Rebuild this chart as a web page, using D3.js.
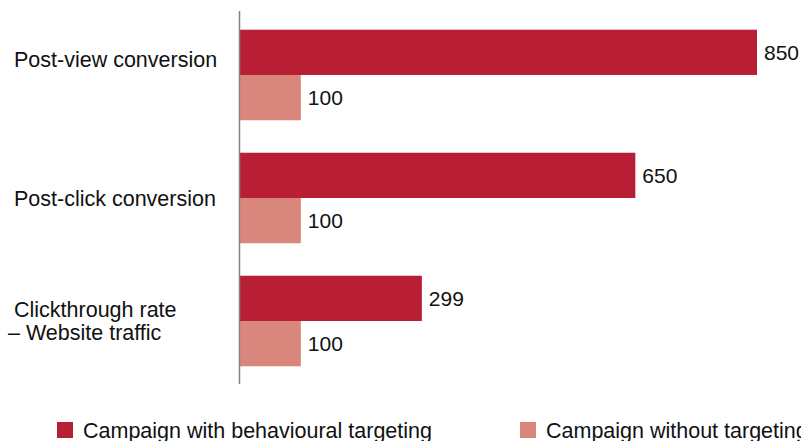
<!DOCTYPE html>
<html>
<head>
<meta charset="utf-8">
<script src="https://cdn.jsdelivr.net/npm/d3@7"></script>
<style>
  body { margin: 0; background: #fff; }
  text { font-family: "Liberation Sans", Arial, Helvetica, sans-serif; fill: #111; }
</style>
</head>
<body>
<svg id="chart"></svg>
<script>
var svgWidth = 801,
    svgHeight = 441;

// data
var categories = ['Post-view conversion', 'Post-click conversion', 'Clickthrough rate\n– Website traffic'];
var series = ['Campaign with behavioural targeting', 'Campaign without targeting'];
var withTargeting = [850, 650, 299];
var withoutTargeting = [100, 100, 100];
var colors = ['#b81f34', '#d9877c'];

var values = [withTargeting, withoutTargeting];

var svg = d3.select('#chart')
    .attr('width', svgWidth)
    .attr('height', svgHeight);

var x0 = 240;
var x = d3.scaleLinear()
    .domain([0, 850])
    .range([x0, 757]);

var y = d3.scaleBand()
    .domain(categories)
    .range([12, 384])
    .paddingInner(0.264)
    .paddingOuter(0.144);

var ySub = d3.scaleBand()
    .domain(series)
    .range([0, y.bandwidth()])
    .padding(0);

// bars
var groups = svg.selectAll('.group')
    .data(categories)
    .enter().append('g')
    .attr('class', 'group')
    .attr('transform', function(d) { return 'translate(0,' + y(d) + ')'; });

series.forEach(function(s, si) {
    groups.append('rect')
        .attr('x', x(0))
        .attr('y', ySub(s))
        .attr('width', function(d, i) { return x(values[si][i]) - x(0); })
        .attr('height', ySub.bandwidth())
        .style('fill', colors[si]);

    groups.append('text')
        .attr('x', function(d, i) { return x(values[si][i]) + 7; })
        .attr('y', ySub(s) + ySub.bandwidth() / 2)
        .attr('dy', '0.35em')
        .style('font-size', '21px')
        .text(function(d, i) { return values[si][i]; });
});

// category labels (first one sits a bit higher in the original)
var labelShift = [-15, 0, 0];
groups.append('text')
    .attr('y', function(d, i) { return y.bandwidth() / 2 + labelShift[i]; })
    .style('font-size', '21.5px')
    .each(function(d) {
        var lines = d.split('\n');
        var t = d3.select(this);
        lines.forEach(function(line, li) {
            t.append('tspan')
                .attr('x', li === 0 ? 14 : 8)
                .attr('dy', li === 0 ? (0.35 - (lines.length - 1) * 0.55) + 'em' : '1.1em')
                .text(line);
        });
    });

// axis line
svg.append('line')
    .attr('x1', x(0) - 0.5).attr('x2', x(0) - 0.5)
    .attr('y1', 11).attr('y2', 384)
    .attr('stroke', '#8c8279')
    .attr('stroke-width', 1.5);

// legend
var legendX = [57, 520];
var legend = svg.selectAll('.legend')
    .data(series)
    .enter().append('g')
    .attr('class', 'legend')
    .attr('transform', function(d, i) { return 'translate(' + legendX[i] + ',422)'; });

legend.append('rect')
    .attr('width', 16)
    .attr('height', 16)
    .style('fill', function(d, i) { return colors[i]; });

legend.append('text')
    .attr('x', 26)
    .attr('y', 8)
    .attr('dy', '0.35em')
    .style('font-size', '21.5px')
    .text(function(d) { return d; });
</script>
</body>
</html>
